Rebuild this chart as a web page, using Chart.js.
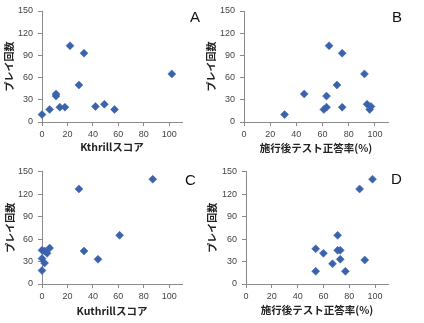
<!DOCTYPE html>
<html>
<head>
<meta charset="utf-8">
<script src="https://cdn.jsdelivr.net/npm/chart.js@4.4.0/dist/chart.umd.min.js"></script>
<style>
  body { margin: 0; background: #fff; }
  #wrap { position: relative; width: 424px; height: 323px; overflow: hidden; }
  canvas { position: absolute; }
  .tag { position: absolute; font-family: "Liberation Sans", Arial, sans-serif; font-size: 15px; color: #111; }
</style>
</head>
<body>
<div id="wrap">
  <canvas id="chartA" width="212" height="161" style="left:0;top:0"></canvas>
  <canvas id="chartB" width="224" height="161" style="left:200px;top:0"></canvas>
  <canvas id="chartC" width="212" height="162" style="left:0;top:161px"></canvas>
  <canvas id="chartD" width="224" height="162" style="left:200px;top:161px"></canvas>
  <div class="tag" style="left:190px;top:8px">A</div>
  <div class="tag" style="left:392px;top:8px">B</div>
  <div class="tag" style="left:185px;top:171px">C</div>
  <div class="tag" style="left:391px;top:170px">D</div>
</div>
<script>
// A: Kthrillスコア vs プレイ回数
const kthrillScore = [0, 6, 11, 11, 14, 18, 22, 33, 29, 42, 49, 57, 102];
const playsA = [10, 17, 38, 35, 20, 20, 103, 93, 50, 21, 24, 17, 65];

// B: 施行後テスト正答率 vs プレイ回数
const testRateB = [31, 46, 63, 61, 63, 65, 75, 71, 75, 92, 94, 96, 97];
const playsB = [10, 38, 35, 17, 20, 103, 93, 50, 20, 65, 24, 17, 21];

// C: Kuthrillスコア vs プレイ回数
const kuthrillScore = [0, 2, 0, 0, 2, 4, 6, 29, 33, 44, 61, 87];
const playsC = [18, 28, 34, 45, 44, 41, 48, 127, 44, 33, 65, 140];

// D: 施行後テスト正答率 vs プレイ回数
const testRateD = [54, 54, 60, 67, 71, 71, 73, 73, 77, 92, 88, 98];
const playsD = [47, 17, 41, 27, 65, 45, 45, 33, 17, 32, 127, 140];

const xTicks = [0, 20, 40, 60, 80, 100];
const yTicks = [0, 30, 60, 90, 120, 150];

const yTitle = "プレイ回数";
const markerColor = "#3b62ad";
const axisColor = "#8a8a8a";
const tickFont = { family: "'Liberation Sans', Arial, sans-serif", size: 9 };
const yTitleFont = { family: "'Noto Sans CJK JP', sans-serif", size: 10, weight: "bold", lineHeight: 1.2 };
const xTitleFont = { family: "'Noto Sans CJK JP', sans-serif", size: 10.5, weight: "bold", lineHeight: 1.2 };

function toPoints(xs, ys) {
  return xs.map((x, i) => ({ x: x, y: ys[i] }));
}

function makeChart(id, xs, ys, xTitle, cfg) {
  const ctx = document.getElementById(id).getContext("2d");
  return new Chart(ctx, {
    type: "scatter",
    data: {
      datasets: [
        {
          data: toPoints(xs, ys),
          pointStyle: "rectRot",
          pointRadius: 4,
          backgroundColor: markerColor,
          borderColor: markerColor,
          borderWidth: 0.5,
          clip: false,
        },
      ],
    },
    options: {
      responsive: false,
      animation: false,
      layout: {
        padding: { left: 0, top: cfg.top, right: cfg.right, bottom: 0 },
      },
      scales: {
        x: {
          type: "linear",
          min: 0,
          max: 110,
          afterBuildTicks: (s) => {
            s.ticks = xTicks.map((v) => ({ value: v }));
          },
          afterFit: (s) => {
            s.height = cfg.xHeight;
          },
          ticks: { color: "#444", font: tickFont, padding: 3, maxRotation: 0 },
          grid: { drawOnChartArea: false, drawTicks: true, tickLength: 4, color: axisColor },
          border: { color: axisColor, width: 1 },
          title: {
            display: true,
            text: xTitle,
            color: "#222",
            font: xTitleFont,
            padding: { top: 0, bottom: cfg.xTitlePad },
          },
        },
        y: {
          type: "linear",
          min: 0,
          max: 150,
          afterBuildTicks: (s) => {
            s.ticks = yTicks.map((v) => ({ value: v }));
          },
          afterFit: (s) => {
            s.width = cfg.yWidth;
          },
          ticks: { color: "#444", font: tickFont, padding: 5 },
          grid: { drawOnChartArea: false, drawTicks: true, tickLength: 4, color: axisColor },
          border: { color: axisColor, width: 1 },
          title: {
            display: true,
            text: yTitle,
            color: "#222",
            font: yTitleFont,
            padding: { top: cfg.yTitlePad, bottom: 0 },
          },
        },
      },
      plugins: {
        legend: { display: false },
        tooltip: { enabled: false },
      },
    },
  });
}

makeChart("chartA", kthrillScore, playsA, "Kthrillスコア",
  { top: 11, right: 30, xHeight: 39, yWidth: 42, xTitlePad: 7.5, yTitlePad: 3.5 });
makeChart("chartB", testRateB, playsB, "施行後テスト正答率(%)",
  { top: 11, right: 36, xHeight: 39, yWidth: 44, xTitlePad: 6.5, yTitlePad: 5 });
makeChart("chartC", kuthrillScore, playsC, "Kuthrillスコア",
  { top: 10.7, right: 30, xHeight: 39, yWidth: 42, xTitlePad: 5.5, yTitlePad: 4 });
makeChart("chartD", testRateD, playsD, "施行後テスト正答率(%)",
  { top: 10.7, right: 36, xHeight: 39, yWidth: 46, xTitlePad: 6.5, yTitlePad: 6 });
</script>
</body>
</html>
